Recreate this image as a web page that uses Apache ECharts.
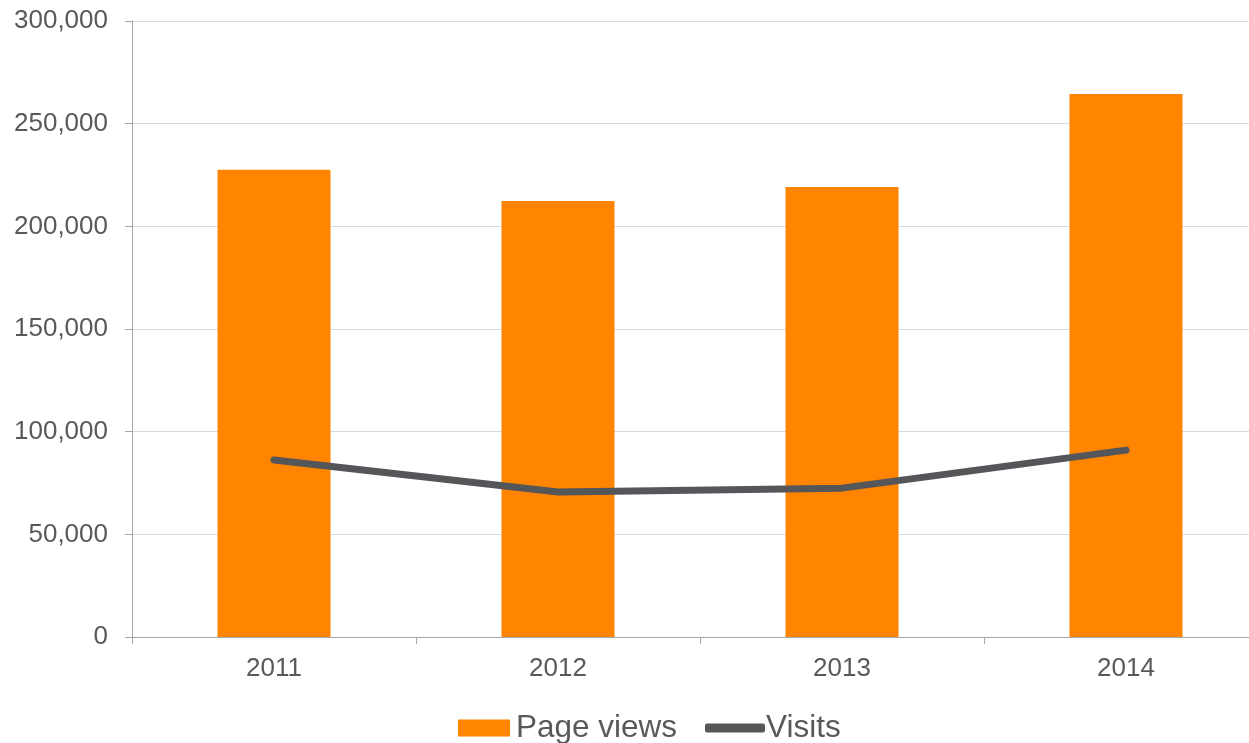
<!DOCTYPE html>
<html>
<head>
<meta charset="utf-8">
<style>html,body{margin:0;padding:0;background:#fff;overflow:hidden;}#c{width:1268px;height:743px;}</style>
<script src="https://cdn.jsdelivr.net/npm/echarts@6/dist/echarts.min.js"></script>
</head>
<body>
<div id="c"></div>
<script>
const categories = ['2011', '2012', '2013', '2014'];
const pageViews = [227500, 212300, 219100, 264400];
const visits = [86200, 70600, 72500, 91000];
const yTicks = { min: 0, max: 300000, interval: 50000 };

const chart = echarts.init(document.getElementById('c'));
const font = 'Liberation Sans, Arial, sans-serif';
chart.setOption({
  animation: false,
  backgroundColor: '#ffffff',
  grid: { left: 132, top: 21, bottom: 106, right: 0 },
  legend: [
    {
      data: ['Page views'], left: 453, top: 707,
      itemWidth: 52, itemHeight: 17, icon: 'rect',
      textStyle: { fontFamily: font, fontSize: 31.5, color: '#595959', padding: [0, 0, 0, 1] }
    },
    {
      data: ['Visits'], left: 700, top: 707,
      itemWidth: 60, itemHeight: 9, icon: 'roundRect',
      textStyle: { fontFamily: font, fontSize: 31.5, color: '#595959', padding: [0, 0, 0, -4] }
    }
  ],
  xAxis: {
    type: 'category', data: categories,
    axisLine: { lineStyle: { color: '#a6a6a6', width: 1 } },
    axisTick: { show: true, length: 7, lineStyle: { color: '#a6a6a6' } },
    axisLabel: { fontFamily: font, fontSize: 26, color: '#595959', margin: 19 },
    splitLine: { show: false }
  },
  yAxis: {
    type: 'value', min: yTicks.min, max: yTicks.max, interval: yTicks.interval,
    axisLine: { show: true, lineStyle: { color: '#a6a6a6', width: 1 } },
    axisTick: { show: true, length: 7, lineStyle: { color: '#a6a6a6' } },
    axisLabel: {
      fontFamily: font, fontSize: 26, color: '#595959', margin: 24,
      formatter: v => v.toLocaleString('en-US')
    },
    splitLine: { lineStyle: { color: '#d9d9d9', width: 1 } }
  },
  series: [
    {
      name: 'Page views', type: 'bar', data: pageViews, barWidth: 113,
      itemStyle: { color: '#ff8400' }
    },
    {
      name: 'Visits', type: 'line', data: visits, showSymbol: false, symbol: 'none',
      lineStyle: { color: '#54565a', width: 7, cap: 'round' },
      itemStyle: { color: '#54565a' }
    }
  ]
});
</script>
</body>
</html>
